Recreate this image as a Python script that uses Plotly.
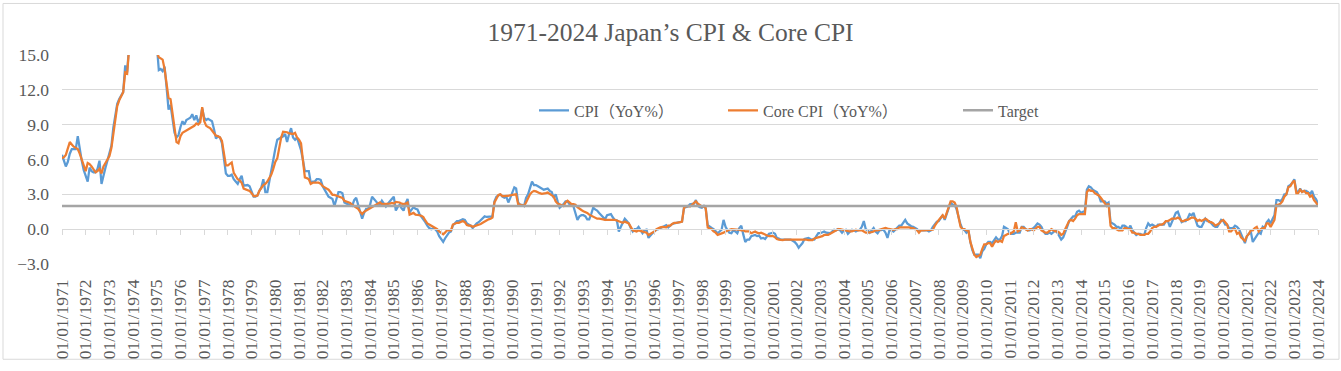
import pandas as pd
import plotly.graph_objects as go

# ---------------- data (monthly YoY %, Jan 1971 .. Jan 2024) ----------------
cpi_1970s = [
    6.4, 5.9, 5.4, 5.8, 6.5, 6.9, 6.9, 6.9, 8.0, 6.8, 5.9, 5.1,          # 1971
    4.5, 4.1, 5.3, 5.0, 4.9, 4.9, 5.2, 5.9, 3.9, 4.7, 5.3, 5.9,          # 1972
    6.5, 7.2, 8.7, 9.8, 10.8, 11.2, 11.5, 11.8, 14.1, 13.5, 15.9, 19.1,  # 1973
    20.9, 26.3, 24.0, 24.9, 23.2, 22.5, 24.6, 23.2, 22.5, 25.3, 24.7, 21.9,  # 1974
    15.9, 13.7, 13.8, 13.6, 14.0, 12.2, 10.3, 10.7, 9.3, 8.3, 7.9, 8.1,  # 1975
    8.8, 9.3, 9.0, 9.4, 9.5, 9.6, 9.9, 9.4, 9.8, 9.2, 9.5, 10.4,         # 1976
    9.6, 9.4, 9.5, 9.4, 9.3, 8.6, 7.8, 8.0, 7.9, 7.4, 6.0, 4.8,          # 1977
    4.6, 4.6, 4.7, 4.3, 4.1, 3.9, 4.3, 4.6, 3.75, 3.8, 3.8, 3.7,         # 1978
    3.3, 2.8, 2.8, 2.9, 3.3, 3.6, 4.3, 3.2, 3.2, 4.2, 5.1, 6.0,          # 1979
]
cpi_1980s = [
    6.9, 7.7, 7.8, 7.9, 8.0, 8.2, 7.5, 8.2, 8.7, 7.9, 7.7, 7.9,          # 1980
    7.3, 6.8, 6.0, 5.0, 5.0, 5.0, 4.0, 4.1, 4.1, 4.3, 4.3, 4.25,         # 1981
    3.7, 3.4, 3.1, 2.8, 2.7, 2.6, 2.0, 2.6, 3.2, 3.2, 3.1, 2.3,          # 1982
    2.2, 2.1, 2.05, 2.0, 2.5, 2.7, 2.15, 1.6, 0.9, 1.4, 1.75, 1.75,      # 1983
    2.1, 2.8, 2.6, 2.35, 2.2, 2.15, 2.45, 2.2, 1.95, 2.2, 2.45, 2.6,     # 1984
    2.8, 1.6, 1.9, 2.1, 1.8, 1.6, 2.2, 2.6, 1.45, 1.7, 1.9, 1.75,        # 1985
    1.7, 1.3, 1.1, 0.9, 0.6, 0.3, 0.1, 0.0, 0.05, 0.0, -0.2, -0.6,       # 1986
    -0.9, -1.1, -0.8, -0.5, -0.3, -0.2, 0.35, 0.5, 0.7, 0.7, 0.75, 0.85, # 1987
    0.8, 0.5, 0.4, 0.3, 0.1, 0.3, 0.5, 0.6, 0.8, 0.9, 1.1, 1.05,         # 1988
    1.05, 1.05, 1.1, 2.4, 2.8, 2.9, 3.0, 2.8, 2.7, 2.8, 2.3, 2.7,        # 1989
]
cpi_1990s = [
    3.1, 3.6, 3.5, 2.3, 2.1, 2.1, 2.0, 2.7, 3.0, 3.6, 4.1, 3.8,          # 1990
    3.8, 3.7, 3.6, 3.55, 3.4, 3.45, 3.5, 3.3, 3.2, 2.7, 3.0, 2.4,        # 1991
    1.85, 2.0, 2.15, 2.4, 2.4, 2.15, 2.1, 1.95, 1.4, 0.8, 1.1, 1.2,      # 1992
    1.2, 1.1, 0.85, 0.85, 1.3, 1.85, 1.7, 1.6, 1.4, 1.2, 1.0, 0.85,      # 1993
    1.2, 1.25, 1.3, 1.0, 0.8, 0.75, -0.2, 0.2, 0.5, 0.9, 0.7, 0.5,       # 1994
    0.1, -0.2, 0.0, 0.0, 0.2, -0.1, -0.35, -0.1, -0.05, -0.75, -0.5, -0.35,  # 1995
    -0.2, -0.05, 0.0, 0.1, 0.15, 0.3, 0.35, 0.15, 0.3, 0.45, 0.5, 0.55,  # 1996
    0.6, 0.65, 0.65, 1.85, 1.9, 1.95, 2.15, 2.2, 2.2, 2.5, 2.0, 1.9,     # 1997
    1.85, 2.0, 1.8, 0.35, 0.2, 0.1, 0.0, -0.2, -0.35, -0.2, -0.05, 0.8,  # 1998
    0.2, -0.1, -0.3, -0.35, -0.1, -0.2, -0.35, 0.1, 0.3, -0.45, -1.1, -0.9,  # 1999
]
cpi_2000s = [
    -0.9, -0.6, -0.55, -0.5, -0.6, -0.55, -0.8, -0.75, -0.85, -0.6, -0.4, -0.35,  # 2000
    -0.3, -0.4, -0.75, -0.8, -0.9, -0.9, -0.9, -0.85, -0.85, -0.9, -1.0, -1.1,    # 2001
    -1.3, -1.6, -1.4, -1.2, -0.85, -0.8, -0.75, -0.85, -0.9, -0.9, -0.6, -0.35,   # 2002
    -0.35, -0.3, -0.2, -0.3, -0.35, -0.35, -0.2, -0.05, -0.1, 0.0, -0.1, -0.3,    # 2003
    -0.1, -0.05, -0.4, -0.2, -0.05, -0.1, -0.2, -0.1, -0.05, 0.2, 0.7, 0.0,       # 2004
    -0.1, -0.3, -0.1, 0.1, -0.2, -0.35, -0.1, -0.1, -0.05, -0.3, -0.75, -0.1,     # 2005
    -0.1, -0.2, -0.05, 0.1, 0.3, 0.3, 0.6, 0.8, 0.5, 0.35, 0.25, 0.2,             # 2006
    0.1, 0.0, -0.2, -0.1, -0.1, -0.1, -0.1, -0.2, -0.1, 0.2, 0.45, 0.65,          # 2007
    0.7, 1.0, 1.2, 0.8, 1.3, 2.0, 2.3, 2.1, 2.1, 1.7, 1.0, 0.4,                   # 2008
    0.0, -0.1, -0.3, -0.1, -1.1, -1.8, -2.2, -2.2, -2.2, -2.5, -1.9, -1.7,        # 2009
]
cpi_2010s = [
    -1.3, -1.1, -1.1, -1.2, -0.9, -0.7, -0.9, -0.9, -0.6, 0.2, 0.1, 0.0,  # 2010
    -0.4, -0.4, -0.4, -0.3, -0.3, -0.3, 0.2, 0.2, 0.0, -0.1, -0.1, 0.0,   # 2011
    0.1, 0.3, 0.5, 0.4, 0.2, -0.2, -0.4, -0.4, -0.3, -0.4, -0.2, -0.1,    # 2012
    -0.3, -0.7, -0.9, -0.7, -0.3, 0.2, 0.7, 0.9, 1.1, 1.1, 1.5, 1.6,      # 2013
    1.4, 1.5, 1.6, 3.4, 3.7, 3.6, 3.4, 3.3, 3.2, 2.9, 2.4, 2.4,           # 2014
    2.4, 2.2, 2.3, 0.6, 0.5, 0.4, 0.2, 0.2, 0.0, 0.3, 0.3, 0.2,           # 2015
    0.0, 0.3, -0.1, -0.3, -0.5, -0.4, -0.4, -0.5, -0.5, 0.1, 0.5, 0.3,    # 2016
    0.4, 0.3, 0.2, 0.4, 0.4, 0.4, 0.4, 0.7, 0.7, 0.2, 0.6, 1.0,           # 2017
    1.4, 1.5, 1.1, 0.6, 0.7, 0.7, 0.9, 1.3, 1.2, 1.4, 0.8, 0.3,           # 2018
    0.2, 0.2, 0.5, 0.9, 0.7, 0.7, 0.5, 0.3, 0.2, 0.2, 0.5, 0.8,           # 2019
]
cpi_2020s = [
    0.7, 0.4, 0.4, 0.1, 0.1, 0.1, 0.3, 0.2, 0.0, -0.4, -0.9, -1.2,        # 2020
    -0.6, -0.4, -0.2, -1.1, -0.8, -0.5, -0.3, -0.4, 0.2, 0.1, 0.6, 0.8,   # 2021
    0.5, 0.9, 1.2, 2.5, 2.5, 2.4, 2.6, 3.0, 3.0, 3.7, 3.8, 4.0,           # 2022
    4.3, 3.3, 3.2, 3.5, 3.2, 3.3, 3.3, 3.2, 3.0, 3.3, 2.8, 2.6,           # 2023
    2.2,                                                                  # 2024
]

core_1970s = [
    6.1, 6.2, 6.4, 6.9, 7.5, 7.3, 7.1, 7.0, 6.9, 6.5, 6.0, 5.4,          # 1971
    5.0, 5.7, 5.6, 5.4, 5.1, 4.9, 5.0, 5.2, 4.8, 5.4, 5.7, 6.0,          # 1972
    6.3, 7.0, 8.3, 9.6, 10.6, 11.1, 11.4, 11.8, 13.5, 13.4, 15.6, 18.8,  # 1973
    22.0, 25.5, 24.3, 24.6, 23.3, 22.8, 24.0, 23.0, 22.6, 24.5, 24.0, 21.5,  # 1974
    15.3, 14.8, 14.7, 14.6, 13.8, 12.6, 11.3, 11.2, 9.8, 8.4, 7.5, 7.4,  # 1975
    8.0, 8.3, 8.4, 8.5, 8.6, 8.7, 8.8, 8.9, 9.1, 9.0, 9.2, 10.5,         # 1976
    9.3, 8.9, 8.8, 8.7, 8.5, 8.3, 8.05, 8.0, 7.9, 7.6, 6.5, 5.5,         # 1977
    5.5, 5.6, 5.75, 4.85, 4.6, 4.3, 4.2, 4.0, 3.5, 3.45, 3.4, 3.3,       # 1978
    3.1, 2.85, 2.85, 2.9, 3.3, 3.6, 3.8, 3.9, 4.1, 4.4, 4.7, 5.2,        # 1979
]
core_1980s = [
    5.8, 6.1, 7.0, 7.9, 8.4, 8.4, 8.35, 8.25, 8.2, 8.2, 8.3, 7.9,        # 1980
    7.7, 7.4, 6.0, 4.45, 4.4, 4.3, 3.9, 4.0, 4.0, 4.0, 4.0, 3.9,         # 1981
    3.7, 3.6, 3.5, 3.4, 3.2, 2.95, 2.95, 2.9, 2.8, 2.8, 2.7, 2.45,       # 1982
    2.4, 2.3, 2.25, 2.1, 2.0, 1.9, 1.75, 1.5, 1.3, 1.5, 1.6, 1.75,       # 1983
    1.85, 1.95, 2.0, 2.1, 2.2, 2.3, 2.15, 2.15, 2.15, 2.2, 2.2, 2.25,    # 1984
    2.2, 2.35, 2.35, 2.3, 2.2, 2.15, 2.2, 2.3, 1.25, 1.35, 1.4, 1.25,    # 1985
    1.25, 1.2, 1.15, 1.05, 0.75, 0.5, 0.4, 0.3, 0.2, 0.1, 0.0, -0.2,     # 1986
    -0.3, -0.45, -0.3, -0.1, -0.1, -0.1, 0.4, 0.5, 0.55, 0.55, 0.6, 0.7, # 1987
    0.6, 0.35, 0.3, 0.3, 0.2, 0.25, 0.3, 0.35, 0.45, 0.55, 0.65, 0.8,    # 1988
    0.85, 0.9, 1.0, 2.3, 2.7, 2.95, 3.0, 2.85, 2.85, 2.85, 2.85, 2.9,    # 1989
]
core_1990s = [
    2.95, 2.95, 3.0, 2.15, 2.1, 2.05, 2.0, 2.3, 2.65, 3.0, 3.2, 3.3,     # 1990
    3.25, 3.15, 3.1, 3.05, 3.05, 3.1, 3.15, 3.05, 2.9, 2.8, 2.4, 2.2,    # 1991
    2.15, 2.1, 2.0, 2.3, 2.45, 2.3, 2.15, 2.15, 2.1, 1.9, 1.75, 1.65,    # 1992
    1.55, 1.5, 1.4, 1.25, 1.15, 1.05, 1.0, 0.9, 0.9, 0.9, 0.85, 0.8,     # 1993
    0.8, 0.8, 0.85, 0.85, 0.8, 0.75, 0.7, 0.6, 0.55, 0.65, 0.6, 0.5,     # 1994
    0.2, -0.1, -0.15, -0.2, -0.1, -0.15, -0.2, -0.3, -0.3, -0.5, -0.4, -0.35,  # 1995
    -0.2, 0.0, 0.1, 0.15, 0.2, 0.2, 0.15, 0.3, 0.3, 0.45, 0.55, 0.55,    # 1996
    0.55, 0.6, 0.65, 1.85, 1.95, 2.0, 1.95, 2.1, 2.3, 2.4, 2.2, 2.1,     # 1997
    1.95, 2.0, 1.8, 0.15, 0.05, 0.0, -0.2, -0.3, -0.5, -0.45, -0.4, -0.3,  # 1998
    -0.2, -0.1, -0.05, 0.0, 0.0, 0.0, 0.0, -0.05, -0.1, -0.1, -0.2, -0.2,  # 1999
]
core_2000s = [
    -0.2, -0.35, -0.25, -0.2, -0.3, -0.35, -0.3, -0.4, -0.5, -0.55, -0.6, -0.6,   # 2000
    -0.6, -0.7, -0.85, -0.9, -0.95, -0.95, -0.9, -0.9, -0.85, -0.85, -0.85, -0.85, # 2001
    -0.9, -0.9, -0.9, -0.9, -0.85, -0.9, -0.95, -0.95, -0.95, -0.8, -0.75, -0.75,  # 2002
    -0.65, -0.6, -0.5, -0.5, -0.5, -0.4, -0.3, -0.15, -0.1, 0.0, 0.0, -0.05,      # 2003
    -0.05, -0.1, -0.15, -0.2, -0.2, -0.15, -0.05, -0.1, -0.1, -0.1, -0.2, -0.3,   # 2004
    -0.3, -0.3, -0.25, -0.2, -0.1, -0.1, -0.05, 0.0, 0.0, 0.1, 0.05, 0.0,         # 2005
    0.0, -0.05, 0.0, 0.0, 0.15, 0.15, 0.2, 0.15, 0.15, 0.15, 0.1, 0.1,            # 2006
    0.0, -0.1, -0.3, -0.1, -0.1, -0.1, -0.1, -0.1, -0.1, -0.05, 0.3, 0.6,         # 2007
    0.8, 1.0, 1.2, 0.9, 1.5, 1.9, 2.4, 2.4, 2.3, 1.9, 1.0, 0.2,                   # 2008
    0.0, 0.0, -0.1, -0.1, -1.1, -1.7, -2.2, -2.4, -2.3, -2.2, -1.7, -1.3,         # 2009
]
core_2010s = [
    -1.3, -1.2, -1.2, -1.5, -1.2, -1.0, -1.1, -1.0, -1.1, -0.6, -0.5, -0.4,  # 2010
    -0.4, -0.3, -0.2, 0.6, -0.2, -0.1, 0.15, 0.1, 0.0, -0.1, 0.0, 0.0,       # 2011
    -0.1, 0.1, 0.2, 0.2, -0.1, -0.2, -0.3, -0.3, -0.1, 0.0, -0.1, -0.2,      # 2012
    -0.2, -0.3, -0.5, -0.4, 0.0, 0.4, 0.7, 0.8, 0.7, 0.9, 1.2, 1.3,          # 2013
    1.3, 1.3, 1.3, 3.2, 3.4, 3.3, 3.3, 3.1, 3.0, 2.9, 2.7, 2.5,              # 2014
    2.2, 2.0, 2.2, 0.3, 0.1, 0.1, 0.0, -0.1, -0.1, -0.1, 0.1, 0.1,           # 2015
    0.0, 0.0, -0.3, -0.3, -0.4, -0.4, -0.5, -0.5, -0.5, -0.4, -0.4, -0.2,    # 2016
    0.1, 0.2, 0.2, 0.3, 0.4, 0.4, 0.5, 0.7, 0.7, 0.8, 0.9, 0.9,              # 2017
    0.9, 1.0, 0.9, 0.7, 0.7, 0.8, 0.8, 0.9, 1.0, 1.0, 0.9, 0.7,              # 2018
    0.8, 0.7, 0.8, 0.9, 0.8, 0.6, 0.6, 0.5, 0.3, 0.4, 0.5, 0.7,              # 2019
]
core_2020s = [
    0.8, 0.6, 0.4, -0.2, -0.2, 0.0, 0.0, -0.4, -0.3, -0.7, -0.9, -1.0,       # 2020
    -0.6, -0.4, -0.1, -0.1, 0.1, 0.2, -0.2, 0.0, 0.1, 0.1, 0.5, 0.5,         # 2021
    0.2, 0.6, 0.8, 2.1, 2.1, 2.2, 2.4, 2.8, 3.0, 3.6, 3.7, 4.0,              # 2022
    4.2, 3.1, 3.1, 3.4, 3.2, 3.3, 3.1, 3.1, 2.8, 2.9, 2.5, 2.3,              # 2023
    2.0,                                                                     # 2024
]

TARGET = 2.0
FIRST_MONTH = "1971-01-01"
SERIES_NAMES = ["CPI（YoY%）", "Core CPI（YoY%）", "Target"]
TITLE = "1971-2024 Japan’s CPI & Core CPI"

cpi = cpi_1970s + cpi_1980s + cpi_1990s + cpi_2000s + cpi_2010s + cpi_2020s
core = core_1970s + core_1980s + core_1990s + core_2000s + core_2010s + core_2020s
dates = pd.date_range(FIRST_MONTH, periods=len(cpi), freq="MS")

# ---------------- layout helpers ----------------
W, H = 1341, 371
L, R, T, B = 62, 23, 55, 101
Y_MIN, Y_MAX = -3, 15
PW, PH = W - L - R, H - T - B


def px_x(px):
    return (px - L) / PW


def px_y(py):
    return (H - B - py) / PH


FONT = "Liberation Serif, Noto Sans CJK SC, serif"
TXT = "#595959"
GRID = "#d9d9d9"
BLUE, ORANGE, GREY = "#5B9BD5", "#ED7D31", "#A5A5A5"

fig = go.Figure()
fig.add_trace(go.Scatter(x=dates, y=cpi, mode="lines", name=SERIES_NAMES[0],
                         line=dict(color=BLUE, width=2.25), legend="legend",
                         showlegend=True))
fig.add_trace(go.Scatter(x=dates, y=core, mode="lines", name=SERIES_NAMES[1],
                         line=dict(color=ORANGE, width=2.25), legend="legend2",
                         showlegend=True))
fig.add_trace(go.Scatter(x=[dates[0], dates[-1]], y=[TARGET, TARGET], mode="lines",
                         name=SERIES_NAMES[2], line=dict(color=GREY, width=2.5),
                         legend="legend3", xaxis="x2", showlegend=True))

leg_common = dict(orientation="h", yanchor="middle", xanchor="left",
                  font=dict(family=FONT, size=16, color=TXT),
                  bgcolor="rgba(0,0,0,0)", borderwidth=0, itemwidth=30,
                  visible=True)

fig.update_layout(
    width=W, height=H,
    showlegend=True,
    margin=dict(l=L, r=R, t=T, b=B, pad=0),
    paper_bgcolor="white", plot_bgcolor="white",
    title=dict(text=TITLE, x=0.5, xanchor="center", xref="container",
               y=1 - 32 / H, yanchor="middle", yref="container",
               font=dict(family=FONT, size=25.5, color=TXT)),
    legend=dict(x=px_x(534), y=px_y(112), **leg_common),
    legend2=dict(x=px_x(723), y=px_y(112), **leg_common),
    legend3=dict(x=px_x(958), y=px_y(112), **leg_common),
    xaxis=dict(type="date", range=[dates[0], dates[-1]],
               tick0=FIRST_MONTH, dtick="M12", tickformat="%d/%m/%Y",
               tickangle=-90, ticks="", ticklabelstandoff=11,
               showgrid=False, showline=False, zeroline=False,
               tickfont=dict(family=FONT, size=17.5, color=TXT)),
    xaxis2=dict(type="date", matches="x", overlaying="x", anchor="free",
                position=(0 - Y_MIN) / (Y_MAX - Y_MIN), side="bottom",
                tick0=FIRST_MONTH, dtick="M12",
                showticklabels=False, showgrid=False, zeroline=False,
                showline=True, linecolor=GRID, linewidth=1,
                ticks="outside", ticklen=5, tickwidth=1, tickcolor=GRID),
    yaxis=dict(range=[Y_MIN, Y_MAX], tick0=0, dtick=3, tickformat=".1f",
               showgrid=True, gridcolor=GRID, gridwidth=1, zeroline=False,
               showline=False, ticks="", ticklabelstandoff=12,
               tickfont=dict(family=FONT, size=17.5, color=TXT)),
    hovermode=False,
)

# chart-area border (Excel chart frame)
fig.add_shape(type="rect", xref="paper", yref="paper",
              x0=px_x(3), x1=px_x(1339), y0=px_y(368), y1=px_y(2),
              line=dict(color=GRID, width=1), layer="below")

fig.write_html("out.html", include_plotlyjs=True,
               config={"displayModeBar": False, "staticPlot": True},
               post_script="document.body.style.margin='0';")
